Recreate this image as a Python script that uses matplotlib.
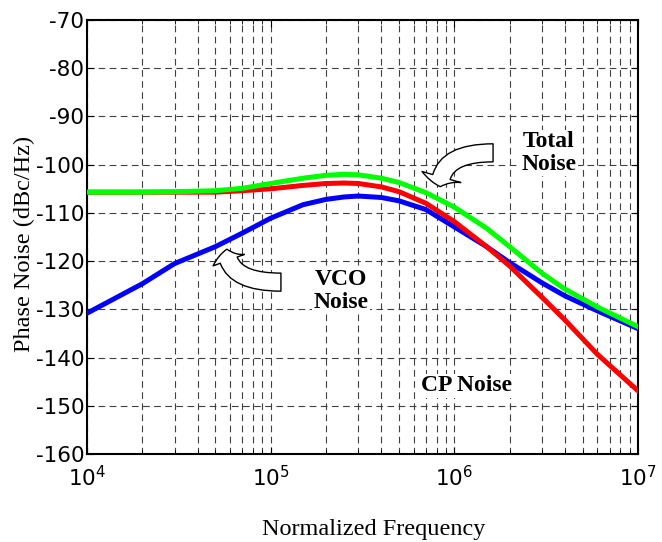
import matplotlib
matplotlib.use("Agg")
import matplotlib.pyplot as plt
from matplotlib.patches import FancyArrowPatch
from matplotlib.ticker import LogLocator, NullFormatter

plt.rcParams["axes.unicode_minus"] = False

# values
freq = [1e4, 2e4, 3e4, 5e4, 7e4, 1e5, 1.5e5, 2e5, 2.5e5, 3e5, 4e5, 5e5,
        7e5, 1e6, 1.5e6, 2e6, 3e6, 4e6, 6e6, 1e7]
total_noise = [-105.7, -105.7, -105.6, -105.4, -104.9, -103.9, -102.8, -102.2,
               -102.0, -102.1, -102.8, -103.7, -105.8, -108.8, -113.2, -117.0,
               -122.5, -125.8, -129.5, -133.6]
cp_noise = [-105.7, -105.7, -105.7, -105.7, -105.4, -105.0, -104.3, -103.9,
            -103.8, -103.9, -104.6, -105.6, -108.0, -111.8, -117.0, -121.0,
            -127.5, -132.2, -139.3, -146.9]
vco_noise = [-130.8, -124.7, -120.5, -117.0, -114.2, -111.1, -108.3, -107.2,
             -106.7, -106.5, -106.8, -107.5, -109.3, -112.9, -117.0, -120.3,
             -124.5, -127.2, -130.3, -134.0]

y_ticks = list(range(-160, -69, 10))

serif = "Liberation Serif"

fig = plt.figure(figsize=(6.62, 5.42), dpi=100)
ax = fig.add_axes([0.1314, 0.1624, 0.8323, 0.8006])

ax.semilogx(freq, vco_noise, color="#0000ff", lw=3.6, zorder=3)
ax.semilogx(freq, cp_noise, color="#ff0000", lw=3.6, zorder=4)
ax.semilogx(freq, total_noise, color="#00ff00", lw=3.6, zorder=5)

ax.set_xlim(1e4, 1e7)
ax.set_ylim(-160, -70)
ax.set_yticks(y_ticks)
ax.xaxis.set_major_locator(LogLocator(base=10, numticks=10))
ax.xaxis.set_minor_locator(LogLocator(base=10, subs=range(2, 10), numticks=20))
ax.xaxis.set_minor_formatter(NullFormatter())

grid_style = dict(color="0.25", linestyle=(0, (6, 4)), linewidth=0.8)
ax.grid(True, which="major", axis="both", **grid_style)
ax.grid(True, which="minor", axis="x", **grid_style)

ax.tick_params(which="both", direction="in", top=True, right=True, labelsize=15.5)
ax.tick_params(axis="x", which="major", pad=8, length=5)
ax.tick_params(axis="x", which="minor", length=3)
ax.tick_params(axis="y", pad=2, length=5)
for s in ax.spines.values():
    s.set_linewidth(1.5)

ax.set_xlabel("Normalized Frequency", fontfamily=serif, fontsize=17.5)
ax.set_ylabel("Phase Noise (dBc/Hz)", fontfamily=serif, fontsize=17.5)
ax.xaxis.set_label_coords(0.52, -0.15)
ax.yaxis.set_label_coords(-0.094, 0.484)

# annotations
box = dict(facecolor="white", edgecolor="none", pad=1)
ax.text(0.838, 0.694, "Total\nNoise", transform=ax.transAxes, ha="center", va="center",
        fontfamily=serif, fontweight="bold", fontsize=17, linespacing=1.1, bbox=box, zorder=6)
ax.text(0.461, 0.376, "VCO\nNoise", transform=ax.transAxes, ha="center", va="center",
        fontfamily=serif, fontweight="bold", fontsize=17, linespacing=1.1, bbox=box, zorder=6)
ax.text(0.688, 0.157, "CP Noise", transform=ax.transAxes, ha="center", va="center",
        fontfamily=serif, fontweight="bold", fontsize=17, bbox=box, zorder=6)

# hollow curved block arrows
arr1 = FancyArrowPatch((0.737, 0.694), (0.641, 0.616), transform=ax.transAxes,
                       arrowstyle="simple,head_length=7,head_width=29,tail_width=13",
                       connectionstyle="angle3,angleA=0,angleB=90",
                       shrinkA=0, shrinkB=0, facecolor="white", edgecolor="black",
                       lw=1.0, zorder=6)
arr2 = FancyArrowPatch((0.352, 0.396), (0.254, 0.472), transform=ax.transAxes,
                       arrowstyle="simple,head_length=8,head_width=24,tail_width=13",
                       connectionstyle="angle3,angleA=0,angleB=90",
                       shrinkA=0, shrinkB=0, facecolor="white", edgecolor="black",
                       lw=1.0, zorder=6)
ax.add_patch(arr1)
ax.add_patch(arr2)

fig.savefig("out.png", dpi=100)
